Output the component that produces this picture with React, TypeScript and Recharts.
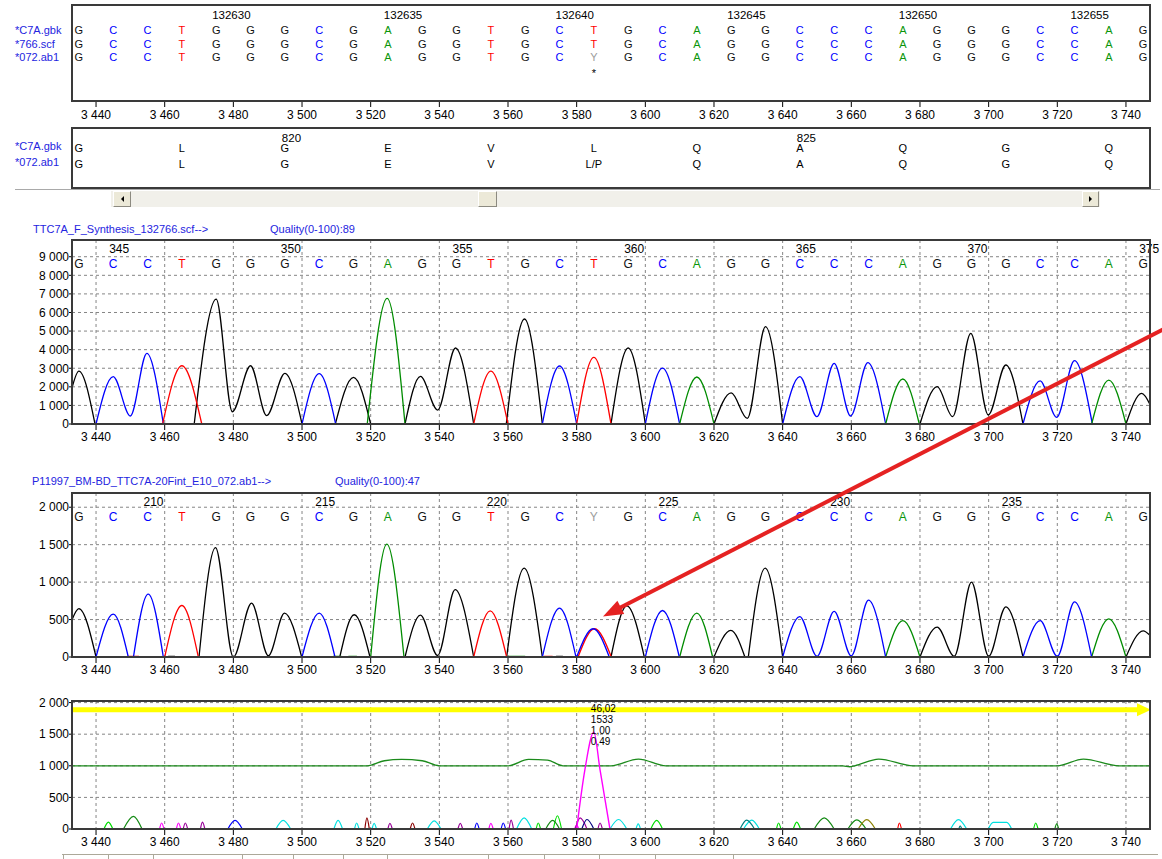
import React from 'react';
import { ComposedChart, Line, Scatter, XAxis, YAxis, CartesianGrid } from 'recharts';

const FONT = "'Liberation Sans', Arial, Helvetica, sans-serif";

// ---------------- data ----------------
const scanTicks = [3440, 3460, 3480, 3500, 3520, 3540, 3560, 3580, 3600, 3620, 3640, 3660, 3680, 3700, 3720, 3740];
const basePositions = [3435, 3445, 3455, 3465, 3475, 3485, 3495, 3505, 3515, 3525, 3535, 3545, 3555, 3565, 3575, 3585,
  3595, 3605, 3615, 3625, 3635, 3645, 3655, 3665, 3675, 3685, 3695, 3705, 3715, 3725, 3735, 3745];
const gbkSeq = 'GCCTGGGCGAGGTGCTGCAGGCCCAGGGCCAG'.split('');
const scfSeq = 'GCCTGGGCGAGGTGCTGCAGGCCCAGGGCCAG'.split('');
const ab1Seq = 'GCCTGGGCGAGGTGCYGCAGGCCCAGGGCCAG'.split('');

const alignNumPositions = [3475, 3525, 3575, 3625, 3675, 3725];
const alignNumLabels = ['132630', '132635', '132640', '132645', '132650', '132655'];
const mismatchPositions = [3585];
const mismatchLabels = ['*'];

const aaPositions = [3435, 3465, 3495, 3525, 3555, 3585, 3615, 3645, 3675, 3705, 3735];
const gbkAA = ['G', 'L', 'G', 'E', 'V', 'L', 'Q', 'A', 'Q', 'G', 'Q'];
const ab1AA = ['G', 'L', 'G', 'E', 'V', 'L/P', 'Q', 'A', 'Q', 'G', 'Q'];
const aaNumPositions = [3495, 3645];
const aaNumLabels = ['820', '825'];

const c1NumPositions = [3445, 3495, 3545, 3595, 3645, 3695, 3745];
const c1NumLabels = ['345', '350', '355', '360', '365', '370', '375'];
const c2NumPositions = [3455, 3505, 3555, 3605, 3655, 3705];
const c2NumLabels = ['210', '215', '220', '225', '230', '235'];

const c1YTicks = [0, 1000, 2000, 3000, 4000, 5000, 6000, 7000, 8000, 9000];
const c2YTicks = [0, 500, 1000, 1500, 2000];
const c3YTicks = [0, 500, 1000, 1500, 2000];

// chromatogram 1 (scf) traces: segments of [scan, signal]
const c1G = [
  [[3433, 1950], [3435, 2850], [3439.7, 0]],
  [[3468.6, 0], [3475, 6720], [3479.7, 660], [3485, 3135], [3489.7, 450], [3495, 2725], [3500, 0]],
  [[3509.7, 0], [3515, 2510], [3520, 0]],
  [[3530, 0], [3534.5, 2560], [3539.5, 750], [3544.7, 4090], [3550, 0]],
  [[3559.5, 0], [3564.8, 5650], [3570, 0]],
  [[3590, 0], [3595, 4090], [3600, 0]],
  [[3620, 0], [3625, 1670], [3629.7, 300], [3635, 5235], [3640, 0]],
  [[3680, 0], [3685, 2010], [3689.5, 395], [3694.8, 4880], [3699.9, 485], [3705, 3175], [3710, 0]],
  [[3740, 0], [3744.6, 1650], [3747, 1050]],
];
const c1C = [
  [[3440, 0], [3445, 2545], [3450, 430], [3454.8, 3800], [3459.6, 0]],
  [[3500, 0], [3505, 2710], [3509.8, 0]],
  [[3570, 0], [3575, 3120], [3580, 0]],
  [[3600, 0], [3605, 3010], [3610, 0]],
  [[3640, 0], [3645, 2545], [3650, 395], [3655, 3265], [3659.8, 430], [3664.8, 3300], [3670, 0]],
  [[3710, 0], [3715, 2315], [3719.8, 360], [3725, 3405], [3730.2, 0]],
];
const c1T = [
  [[3459.4, 0], [3465, 3135], [3470.8, 0]],
  [[3550, 0], [3555, 2850], [3560, 0]],
  [[3580, 0], [3585, 3580], [3590, 0]],
];
const c1A = [
  [[3519, 0], [3524.8, 6760], [3530, 0]],
  [[3610, 0], [3615, 2530], [3620, 0]],
  [[3670, 0], [3675, 2420], [3679.8, 0]],
  [[3730, 0], [3735, 2365], [3740, 0]],
];

// chromatogram 2 (ab1) traces
const c2G = [
  [[3433, 497], [3435, 645], [3440, 0]],
  [[3461, 9], [3463, 9]],
  [[3470, 0], [3474.8, 1461], [3480, 0], [3485.3, 720], [3490.2, 17], [3494.9, 587], [3499.9, 0]],
  [[3511, 0], [3515.2, 564], [3519.8, 0]],
  [[3530, 0], [3534.5, 560], [3539.5, 20], [3544.6, 900], [3550, 0]],
  [[3559.6, 0], [3564.7, 1187], [3570, 0]],
  [[3574, 9], [3576, 9]],
  [[3590, 0], [3594.6, 684], [3599.7, 0]],
  [[3620, 0], [3624.9, 355], [3629, 0]],
  [[3630, 0], [3634.9, 1187], [3640, 0]],
  [[3680, 0], [3685, 400], [3690, 10], [3695, 1000], [3700, 10], [3705, 670], [3710, 0]],
  [[3740, 0], [3745, 350], [3747, 290]],
];
const c2C = [
  [[3440, 0], [3445, 573], [3449.4, 0]],
  [[3450.9, 0], [3455.2, 840], [3459.6, 0]],
  [[3500, 0], [3505, 587], [3509.6, 0]],
  [[3570, 0], [3575, 653], [3579.8, 0]],
  [[3580, 0], [3584.8, 377], [3589.5, 0]],
  [[3600, 0], [3605, 621], [3609.9, 0]],
  [[3640, 0], [3645, 540], [3650, 10], [3655, 610], [3660, 15], [3665, 760], [3670, 0]],
  [[3710, 0], [3715, 485], [3720, 10], [3725, 735], [3730, 0]],
];
const c2T = [
  [[3449, 9], [3452.5, 9]],
  [[3460, 0], [3465, 688], [3469.8, 0]],
  [[3550, 0], [3554.8, 617], [3559.6, 0]],
  [[3570.5, 9], [3573, 9]],
  [[3580.4, 0], [3585.2, 377], [3590.1, 0]],
];
const c2A = [
  [[3509, 9], [3511.5, 9]],
  [[3513.5, 9], [3516, 9]],
  [[3520, 0], [3524.7, 1506], [3529.7, 0]],
  [[3560, 9], [3565, 9]],
  [[3610, 0], [3615, 587], [3619.6, 0]],
  [[3670, 0], [3675, 485], [3680, 0]],
  [[3730, 0], [3735, 510], [3740, 0]],
];

// bottom panel
const qualityLine = [[3433, 1000], [3519, 1000], [3524, 1080], [3529, 1100], [3535, 1080], [3540, 1000], [3560, 1000],
  [3566, 1100], [3571.5, 1090], [3576, 1000], [3590, 1000], [3598, 1105], [3606, 1000], [3657.5, 1000], [3659.5, 985],
  [3661, 1000], [3668, 1105], [3678, 1000], [3720, 1000], [3727.6, 1105], [3738, 1000], [3747, 1000]];
const thresholdLine = [[3433, 1885], [3743.5, 1885]];
const mixedPeak = [[3580, 0], [3582.4, 940], [3585, 1533], [3586.8, 940], [3589.7, 0]];
const peakInfoPos = [3585, 1533];
const peakInfoLabels = ['46,02', '1533', '1,00', '0,49'];

// small residual marks: [start, top, end, height] (or [start, top1, top2, end, height])
const limeMarks = [[3442.3, 3443.6, 3444.9, 110], [3568.2, 3568.8, 3569.5, 95], [3573.2, 3574.4, 3575.6, 210],
  [3601.6, 3603.3, 3605, 135], [3638.2, 3638.8, 3639.5, 95], [3643.1, 3644.1, 3645.2, 110], [3713.1, 3713.7, 3714.4, 95]];
const darkGreenMarks = [[3448, 3450.9, 3453.4, 200], [3571, 3573, 3575, 135], [3649.2, 3652.1, 3655, 175],
  [3659, 3661.6, 3664.3, 145], [3719.3, 3719.8, 3720.4, 80]];
const magentaMarks = [[3458.5, 3459.1, 3459.8, 95], [3463.4, 3464, 3464.7, 95], [3554.4, 3555, 3555.7, 90], [3579.4, 3580, 3580.6, 60]];
const purpleMarks = [[3465.4, 3466, 3466.7, 95], [3470.4, 3471, 3471.7, 110], [3525, 3525.6, 3526.3, 90], [3545.4, 3546.1, 3546.8, 90],
  [3560.3, 3560.9, 3561.6, 140], [3579.6, 3581, 3583, 175], [3586.2, 3586.8, 3587.5, 95]];
const blueMarks = [[3478.4, 3480.5, 3482.6, 135], [3550.3, 3550.9, 3551.6, 95], [3558, 3558.6, 3559.3, 95]];
const navyMarks = [[3581.5, 3583, 3585, 150]];
const cyanMarks = [[3492.4, 3494.5, 3496.7, 135], [3509.3, 3510.5, 3511.8, 135], [3515.3, 3515.9, 3516.6, 95],
  [3520.4, 3521, 3521.7, 90], [3536.5, 3538.5, 3540.5, 130], [3562.5, 3564.7, 3566.9, 175], [3589.7, 3592.2, 3594.6, 150],
  [3597.3, 3597.9, 3598.6, 80], [3628.6, 3631, 3633.2, 140], [3688.9, 3691.2, 3693.6, 147], [3699.9, 3701.3, 3705.3, 3706.7, 105]];
const tealMarks = [[3627.6, 3629.5, 3631.8, 140], [3691.3, 3691.7, 3692.2, 50]];
const darkRedMarks = [[3518.3, 3518.9, 3519.6, 175], [3531.5, 3532.2, 3532.9, 95]];
const oliveMarks = [[3662, 3664.5, 3667, 147]];
const redMarks = [[3673.5, 3674, 3674.6, 95]];

// ---------------- styles / layout ----------------
const X_DOMAIN: [number, number] = [3433, 3747];
const baseColor: Record<string, string> = { A: '#0a960a', C: '#0000ff', G: '#111111', T: '#ff0000', Y: '#9c9c9c' };
const LABEL_BLUE = '#2424e0';
const LAYOUT = {
  alignNum: 86, alignRow1: 71, alignRow2: 57.3, alignRow3: 43.7, alignStar: 28,
  aaNum: 49.7, aaRow1: 39.5, aaRow2: 24,
  c1Num: 9453, c1Letters: 8609,
  c2Num: 2074, c2Letters: 1873,
};

type Pt = { x: number; y: number | null };
const flatten = (segs: number[][][]): Pt[] => {
  const out: Pt[] = [];
  segs.forEach((s, i) => {
    if (i > 0) out.push({ x: s[0][0], y: null });
    s.forEach(([x, y]) => out.push({ x, y }));
  });
  return out;
};
const marksToSegs = (marks: number[][]): number[][][] =>
  marks.map((m) => (m.length === 5
    ? [[m[0], 0], [m[1], m[4]], [m[2], m[4]], [m[3], 0]]
    : [[m[0], 0], [m[1], m[3]], [m[2], 0]]));
const toPts = (arr: number[][]): Pt[] => arr.map(([x, y]) => ({ x, y }));
const textRow = (labels: string[], positions: number[], y: number) =>
  labels.map((label, i) => ({ x: positions[i], y, label }));

const fmt = (v: number) => {
  if (v < 1000) return String(v);
  const t = Math.floor(v / 1000);
  return `${t} ${String(v - t * 1000).padStart(3, '0')}`;
};

const textShape = (size: number, opts: { colored?: boolean; anchor?: string; dx?: number; color?: string } = {}) =>
  (p: any) => (
    <text
      x={p.cx + (opts.dx || 0)}
      y={p.cy}
      dy="0.36em"
      textAnchor={opts.anchor || 'middle'}
      fontSize={size}
      fontFamily={FONT}
      fill={opts.colored ? baseColor[p.payload.label] || '#000' : opts.color || '#000'}
    >
      {p.payload.label}
    </text>
  );

const arrowDot = (p: any) => {
  if (p.index !== 1) return <g key={p.index} />;
  return <path key={p.index} d={`M${p.cx - 1},${p.cy - 6.5} L${p.cx + 13},${p.cy} L${p.cx - 1},${p.cy + 6.5} Z`} fill="#ffff00" />;
};

const infoShape = (p: any) => (
  <g>
    {peakInfoLabels.map((t, i) => (
      <text key={i} x={p.cx - 3} y={p.cy - 24 + i * 11} dy="0.36em" fontSize={10} fontFamily={FONT} fill="#000">{t}</text>
    ))}
  </g>
);

const axisTick = { fontSize: 12, fill: '#000', fontFamily: FONT };

function Border({ left, top, right, bottom }: { left: number; top: number; right: number; bottom: number }) {
  return (
    <div style={{
      position: 'absolute', left: left - 1, top: top - 1, width: right - left + 2, height: bottom - top + 2,
      border: '2px solid #3a3a3a', boxSizing: 'border-box', pointerEvents: 'none',
    }} />
  );
}

function Label({ x, y, text, color = LABEL_BLUE, size = 11 }: { x: number; y: number; text: string; color?: string; size?: number }) {
  return (
    <div style={{ position: 'absolute', left: x, top: y - 7, lineHeight: '14px', fontSize: size, fontFamily: FONT, color, whiteSpace: 'nowrap' }}>
      {text}
    </div>
  );
}

type Trace = { segs: number[][][]; color: string; width?: number };

function Chromatogram(props: {
  top: number; height: number; marginTop: number; yMax: number; yTicks: number[];
  traces: Trace[]; letters: any[]; numbers: any[]; children?: any;
}) {
  const { top, height, marginTop, yMax, yTicks, traces, letters, numbers } = props;
  return (
    <div style={{ position: 'absolute', left: 0, top, width: 1162, height }}>
      <ComposedChart width={1162} height={height} margin={{ top: marginTop, right: 12, bottom: 0, left: 0 }}>
        <CartesianGrid stroke="#858585" strokeDasharray="3 3" />
        <XAxis dataKey="x" type="number" domain={X_DOMAIN} ticks={scanTicks} interval={0}
          tickFormatter={fmt} tick={axisTick} tickSize={6} tickMargin={2} height={31}
          axisLine={{ stroke: '#000', strokeWidth: 2 }} tickLine={{ stroke: '#000' }} />
        <YAxis dataKey="y" type="number" domain={[0, yMax]} ticks={yTicks} interval={0}
          tickFormatter={fmt} tick={axisTick} tickSize={3} tickMargin={0} width={72}
          axisLine={{ stroke: '#000', strokeWidth: 2 }} tickLine={{ stroke: '#000' }} />
        {traces.map((t, i) => (
          <Line key={i} data={flatten(t.segs)} dataKey="y" type="monotone" stroke={t.color} strokeWidth={t.width || 1.3}
            dot={false} activeDot={false} connectNulls={false} isAnimationActive={false} />
        ))}
        <Scatter data={letters} shape={textShape(12, { colored: true })} isAnimationActive={false} />
        <Scatter data={numbers} shape={textShape(12, { anchor: 'start', dx: -4 })} isAnimationActive={false} />
        {props.children}
      </ComposedChart>
    </div>
  );
}

export default function App() {
  const c1Traces: Trace[] = [
    { segs: c1G, color: '#000000' }, { segs: c1C, color: '#0000ff' },
    { segs: c1A, color: '#008c00' }, { segs: c1T, color: '#ff0000' },
  ];
  const c2Traces: Trace[] = [
    { segs: c2G, color: '#000000' }, { segs: c2A, color: '#008c00' },
    { segs: c2T, color: '#ff0000' }, { segs: c2C, color: '#0000ff' },
  ];
  const markGroups: { marks: number[][]; color: string }[] = [
    { marks: limeMarks, color: '#00dd00' }, { marks: darkGreenMarks, color: '#138a13' },
    { marks: magentaMarks, color: '#ff00ff' }, { marks: purpleMarks, color: '#990099' },
    { marks: blueMarks, color: '#0000ff' }, { marks: navyMarks, color: '#000080' },
    { marks: cyanMarks, color: '#00e0e0' }, { marks: tealMarks, color: '#008080' },
    { marks: darkRedMarks, color: '#8b0000' }, { marks: oliveMarks, color: '#8b8000' },
    { marks: redMarks, color: '#ff0000' },
  ];

  // red annotation arrow geometry
  const S = { x: 1166, y: 328 };
  const T = { x: 603, y: 616.5 };
  const len = Math.hypot(T.x - S.x, T.y - S.y);
  const ux = (T.x - S.x) / len, uy = (T.y - S.y) / len;
  const Bx = T.x - 20 * ux, By = T.y - 20 * uy;
  const nx = -uy * 7.5, ny = ux * 7.5;

  const scrollSeps = [63, 108, 153, 242, 293, 343, 387, 488, 544, 599, 655, 733];

  return (
    <div style={{ position: 'absolute', left: 0, top: 0, width: 1162, height: 859, background: '#fff', overflow: 'hidden', fontFamily: FONT }}>
      {/* alignment panel */}
      <Label x={15} y={30} text="*C7A.gbk" />
      <Label x={15} y={43.7} text="*766.scf" />
      <Label x={15} y={57.3} text="*072.ab1" />
      <div style={{ position: 'absolute', left: 0, top: 0, width: 1162, height: 130 }}>
        <ComposedChart width={1162} height={130} margin={{ top: 5, right: 12, bottom: 0, left: 72 }}>
          <XAxis dataKey="x" type="number" domain={X_DOMAIN} ticks={scanTicks} interval={0}
            tickFormatter={fmt} tick={axisTick} tickSize={6} tickMargin={3} height={29}
            axisLine={false} tickLine={{ stroke: '#000' }} />
          <YAxis dataKey="y" type="number" domain={[0, 96]} hide />
          <Scatter data={textRow(alignNumLabels, alignNumPositions, LAYOUT.alignNum)} shape={textShape(11.5, { anchor: 'start', dx: -4 })} isAnimationActive={false} />
          <Scatter data={textRow(gbkSeq, basePositions, LAYOUT.alignRow1)} shape={textShape(11, { colored: true })} isAnimationActive={false} />
          <Scatter data={textRow(scfSeq, basePositions, LAYOUT.alignRow2)} shape={textShape(11, { colored: true })} isAnimationActive={false} />
          <Scatter data={textRow(ab1Seq, basePositions, LAYOUT.alignRow3)} shape={textShape(11, { colored: true })} isAnimationActive={false} />
          <Scatter data={textRow(mismatchLabels, mismatchPositions, LAYOUT.alignStar)} shape={textShape(11)} isAnimationActive={false} />
        </ComposedChart>
      </div>
      <Border left={72} top={5} right={1150} bottom={101} />

      {/* translation panel */}
      <Label x={15} y={146} text="*C7A.gbk" />
      <Label x={15} y={162} text="*072.ab1" />
      <div style={{ position: 'absolute', left: 0, top: 126, width: 1162, height: 64 }}>
        <ComposedChart width={1162} height={64} margin={{ top: 2, right: 12, bottom: 2, left: 72 }}>
          <XAxis dataKey="x" type="number" domain={X_DOMAIN} hide />
          <YAxis dataKey="y" type="number" domain={[0, 60]} hide />
          <Scatter data={textRow(aaNumLabels, aaNumPositions, LAYOUT.aaNum)} shape={textShape(11.5, { anchor: 'start', dx: -3 })} isAnimationActive={false} />
          <Scatter data={textRow(gbkAA, aaPositions, LAYOUT.aaRow1)} shape={textShape(11)} isAnimationActive={false} />
          <Scatter data={textRow(ab1AA, aaPositions, LAYOUT.aaRow2)} shape={textShape(11)} isAnimationActive={false} />
        </ComposedChart>
      </div>
      <Border left={72} top={128} right={1150} bottom={188} />

      {/* scrollbar */}
      <div style={{ position: 'absolute', left: 15, top: 189, width: 1145, height: 1, background: '#a9a9a9' }} />
      <div style={{ position: 'absolute', left: 111, top: 191, width: 989, height: 16, background: '#f1f0ea' }} />
      {[{ l: 113, w: 18, dir: 'left' }, { l: 478, w: 19, dir: '' }, { l: 1082, w: 17, dir: 'right' }].map((b, i) => (
        <div key={i} style={{
          position: 'absolute', left: b.l, top: 191, width: b.w, height: 16, boxSizing: 'border-box', background: '#ece9d8',
          borderStyle: 'solid', borderWidth: 1, borderColor: '#ffffff #8c8a80 #8c8a80 #ffffff',
          display: 'flex', alignItems: 'center', justifyContent: 'center',
        }}>
          {b.dir === 'left' && <div style={{ width: 0, height: 0, borderTop: '3px solid transparent', borderBottom: '3px solid transparent', borderRight: '3px solid #000' }} />}
          {b.dir === 'right' && <div style={{ width: 0, height: 0, borderTop: '3px solid transparent', borderBottom: '3px solid transparent', borderLeft: '3px solid #000' }} />}
        </div>
      ))}

      {/* chromatogram 1 */}
      <Label x={33} y={228.5} text="TTC7A_F_Synthesis_132766.scf-->" />
      <Label x={270} y={228.5} text="Quality(0-100):89" />
      <Chromatogram top={215} height={240} marginTop={25} yMax={9900} yTicks={c1YTicks} traces={c1Traces}
        letters={textRow(scfSeq, basePositions, LAYOUT.c1Letters)} numbers={textRow(c1NumLabels, c1NumPositions, LAYOUT.c1Num)} />
      <Border left={72} top={240} right={1150} bottom={424} />

      {/* chromatogram 2 */}
      <Label x={32} y={481} text="P11997_BM-BD_TTC7A-20Fint_E10_072.ab1-->" />
      <Label x={335} y={481} text="Quality(0-100):47" />
      <Chromatogram top={468} height={220} marginTop={25} yMax={2190} yTicks={c2YTicks} traces={c2Traces}
        letters={textRow(ab1Seq, basePositions, LAYOUT.c2Letters)} numbers={textRow(c2NumLabels, c2NumPositions, LAYOUT.c2Num)} />
      <Border left={72} top={493} right={1150} bottom={657} />

      {/* bottom panel */}
      <div style={{ position: 'absolute', left: 0, top: 690, width: 1162, height: 169 }}>
        <ComposedChart width={1162} height={169} margin={{ top: 11, right: 12, bottom: 0, left: 0 }}>
          <CartesianGrid stroke="#858585" strokeDasharray="3 3" />
          <XAxis dataKey="x" type="number" domain={X_DOMAIN} ticks={scanTicks} interval={0}
            tickFormatter={fmt} tick={axisTick} tickSize={6} tickMargin={2} height={30}
            axisLine={{ stroke: '#000', strokeWidth: 2 }} tickLine={{ stroke: '#000' }} />
          <YAxis dataKey="y" type="number" domain={[0, 2025]} ticks={c3YTicks} interval={0}
            tickFormatter={fmt} tick={axisTick} tickSize={3} tickMargin={0} width={72}
            axisLine={{ stroke: '#000', strokeWidth: 2 }} tickLine={{ stroke: '#000' }} />
          {markGroups.map((g, i) => (
            <Line key={'m' + i} data={flatten(marksToSegs(g.marks))} dataKey="y" type="monotone" stroke={g.color} strokeWidth={1.2}
              dot={false} activeDot={false} isAnimationActive={false} />
          ))}
          <Line data={toPts(qualityLine)} dataKey="y" type="monotone" stroke="#1b8a1b" strokeWidth={1.3}
            dot={false} activeDot={false} isAnimationActive={false} />
          <Line data={toPts(mixedPeak)} dataKey="y" type="monotone" stroke="#ff00ff" strokeWidth={1.4}
            dot={false} activeDot={false} isAnimationActive={false} />
          <Line data={toPts(thresholdLine)} dataKey="y" type="linear" stroke="#ffff00" strokeWidth={5}
            dot={arrowDot} activeDot={false} isAnimationActive={false} />
          <Scatter data={[{ x: peakInfoPos[0], y: peakInfoPos[1], label: '' }]} shape={infoShape} isAnimationActive={false} />
        </ComposedChart>
      </div>
      <Border left={72} top={701} right={1150} bottom={829} />

      {/* bottom table header strip */}
      <div style={{ position: 'absolute', left: 62, top: 854, width: 1096, height: 1, background: '#aca899' }} />
      {scrollSeps.map((x) => (
        <div key={x} style={{ position: 'absolute', left: x, top: 854, width: 1, height: 5, background: '#aca899' }} />
      ))}

      {/* red annotation arrow */}
      <svg width={1162} height={859} style={{ position: 'absolute', left: 0, top: 0, pointerEvents: 'none' }}>
        <line x1={S.x} y1={S.y} x2={Bx + 2 * ux} y2={By + 2 * uy} stroke="#e52222" strokeWidth={4} />
        <polygon points={`${T.x},${T.y} ${Bx + nx},${By + ny} ${Bx - nx},${By - ny}`} fill="#e52222" />
      </svg>
    </div>
  );
}
